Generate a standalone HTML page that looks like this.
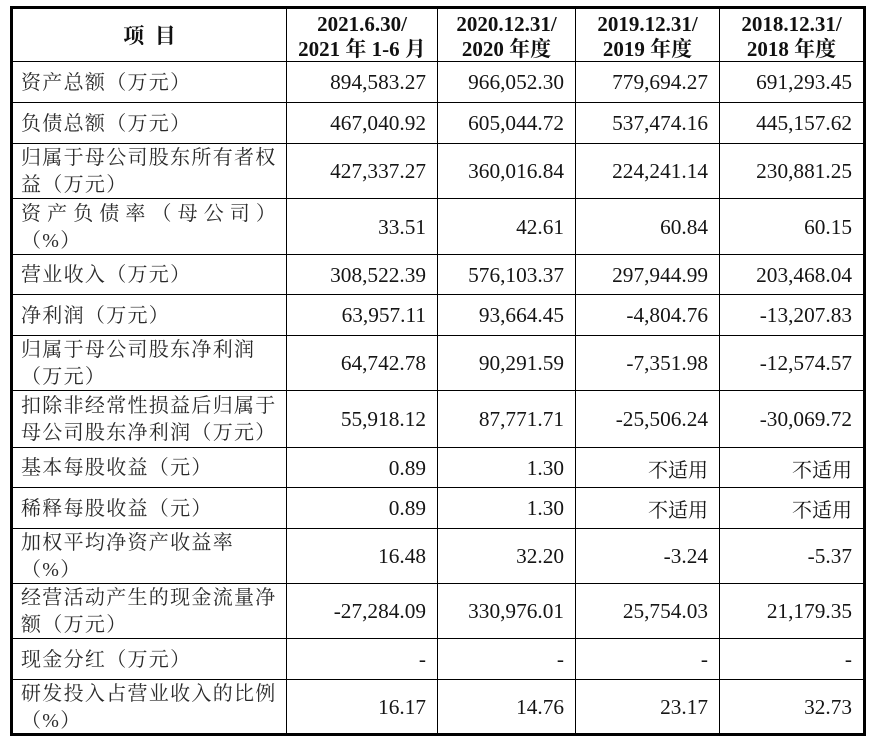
<!DOCTYPE html>
<html>
<head>
<meta charset="utf-8">
<style>
html,body{margin:0;padding:0;background:#fff;}
body{width:875px;height:742px;position:relative;overflow:hidden;}
.box{position:absolute;left:10px;top:6px;width:856px;height:730px;border:3px solid #000;box-sizing:border-box;}
.h{position:absolute;left:13px;width:850px;height:1px;background:#000;}
.v{position:absolute;top:9px;height:724px;width:1px;background:#000;}
.c{position:absolute;display:flex;align-items:center;box-sizing:border-box;}
.t{font-family:"Liberation Serif","Noto Serif CJK SC",serif;font-size:20px;color:#2a2a2a;letter-spacing:1.3px;line-height:27px;padding-left:21px;padding-top:3px;white-space:nowrap;}
.n{font-family:"Liberation Serif","Noto Serif CJK SC",serif;font-size:21.3px;color:#151515;justify-content:flex-end;padding-right:11px;padding-top:2px;white-space:nowrap;}
.hd{font-family:"Liberation Serif","Noto Serif CJK SC",serif;font-weight:bold;font-size:21px;color:#111;justify-content:center;text-align:center;line-height:25px;white-space:pre;padding-top:3px;}
</style>
</head>
<body>
<div class="box"></div>
<div class="h" style="top:61px"></div>
<div class="h" style="top:102px"></div>
<div class="h" style="top:143px"></div>
<div class="h" style="top:198px"></div>
<div class="h" style="top:254px"></div>
<div class="h" style="top:294px"></div>
<div class="h" style="top:335px"></div>
<div class="h" style="top:390px"></div>
<div class="h" style="top:447px"></div>
<div class="h" style="top:487px"></div>
<div class="h" style="top:528px"></div>
<div class="h" style="top:583px"></div>
<div class="h" style="top:638px"></div>
<div class="h" style="top:679px"></div>
<div class="v" style="left:286px"></div>
<div class="v" style="left:437px"></div>
<div class="v" style="left:575px"></div>
<div class="v" style="left:719px"></div>

<div class="c hd" style="left:13px;top:9px;width:273px;height:52px;">项  目</div>
<div class="c hd" style="left:287px;top:9px;width:150px;height:52px;">2021.6.30/
2021 年 1-6 月</div>
<div class="c hd" style="left:438px;top:9px;width:137px;height:52px;">2020.12.31/
2020 年度</div>
<div class="c hd" style="left:576px;top:9px;width:143px;height:52px;">2019.12.31/
2019 年度</div>
<div class="c hd" style="left:720px;top:9px;width:143px;height:52px;">2018.12.31/
2018 年度</div>

<div class="c t" style="left:0;top:61px;width:286px;height:41px;">资产总额（万元）</div>
<div class="c n" style="left:287px;top:61px;width:150px;height:41px;">894,583.27</div>
<div class="c n" style="left:438px;top:61px;width:137px;height:41px;">966,052.30</div>
<div class="c n" style="left:576px;top:61px;width:143px;height:41px;">779,694.27</div>
<div class="c n" style="left:720px;top:61px;width:143px;height:41px;">691,293.45</div>

<div class="c t" style="left:0;top:102px;width:286px;height:41px;">负债总额（万元）</div>
<div class="c n" style="left:287px;top:102px;width:150px;height:41px;">467,040.92</div>
<div class="c n" style="left:438px;top:102px;width:137px;height:41px;">605,044.72</div>
<div class="c n" style="left:576px;top:102px;width:143px;height:41px;">537,474.16</div>
<div class="c n" style="left:720px;top:102px;width:143px;height:41px;">445,157.62</div>

<div class="c t" style="left:0;top:143px;width:286px;height:55px;">归属于母公司股东所有者权<br>益（万元）</div>
<div class="c n" style="left:287px;top:143px;width:150px;height:55px;">427,337.27</div>
<div class="c n" style="left:438px;top:143px;width:137px;height:55px;">360,016.84</div>
<div class="c n" style="left:576px;top:143px;width:143px;height:55px;">224,241.14</div>
<div class="c n" style="left:720px;top:143px;width:143px;height:55px;">230,881.25</div>

<div class="c t" style="left:0;top:198px;width:286px;height:56px;"><div><span style="letter-spacing:6.1px">资产负债率（母公司）</span><br>（%）</div></div>
<div class="c n" style="left:287px;top:198px;width:150px;height:56px;">33.51</div>
<div class="c n" style="left:438px;top:198px;width:137px;height:56px;">42.61</div>
<div class="c n" style="left:576px;top:198px;width:143px;height:56px;">60.84</div>
<div class="c n" style="left:720px;top:198px;width:143px;height:56px;">60.15</div>

<div class="c t" style="left:0;top:254px;width:286px;height:40px;">营业收入（万元）</div>
<div class="c n" style="left:287px;top:254px;width:150px;height:40px;">308,522.39</div>
<div class="c n" style="left:438px;top:254px;width:137px;height:40px;">576,103.37</div>
<div class="c n" style="left:576px;top:254px;width:143px;height:40px;">297,944.99</div>
<div class="c n" style="left:720px;top:254px;width:143px;height:40px;">203,468.04</div>

<div class="c t" style="left:0;top:294px;width:286px;height:41px;">净利润（万元）</div>
<div class="c n" style="left:287px;top:294px;width:150px;height:41px;">63,957.11</div>
<div class="c n" style="left:438px;top:294px;width:137px;height:41px;">93,664.45</div>
<div class="c n" style="left:576px;top:294px;width:143px;height:41px;">-4,804.76</div>
<div class="c n" style="left:720px;top:294px;width:143px;height:41px;">-13,207.83</div>

<div class="c t" style="left:0;top:335px;width:286px;height:55px;">归属于母公司股东净利润<br>（万元）</div>
<div class="c n" style="left:287px;top:335px;width:150px;height:55px;">64,742.78</div>
<div class="c n" style="left:438px;top:335px;width:137px;height:55px;">90,291.59</div>
<div class="c n" style="left:576px;top:335px;width:143px;height:55px;">-7,351.98</div>
<div class="c n" style="left:720px;top:335px;width:143px;height:55px;">-12,574.57</div>

<div class="c t" style="left:0;top:390px;width:286px;height:57px;">扣除非经常性损益后归属于<br>母公司股东净利润（万元）</div>
<div class="c n" style="left:287px;top:390px;width:150px;height:57px;">55,918.12</div>
<div class="c n" style="left:438px;top:390px;width:137px;height:57px;">87,771.71</div>
<div class="c n" style="left:576px;top:390px;width:143px;height:57px;">-25,506.24</div>
<div class="c n" style="left:720px;top:390px;width:143px;height:57px;">-30,069.72</div>

<div class="c t" style="left:0;top:447px;width:286px;height:40px;">基本每股收益（元）</div>
<div class="c n" style="left:287px;top:447px;width:150px;height:40px;">0.89</div>
<div class="c n" style="left:438px;top:447px;width:137px;height:40px;">1.30</div>
<div class="c n" style="left:576px;top:447px;width:143px;height:40px;font-size:20px;">不适用</div>
<div class="c n" style="left:720px;top:447px;width:143px;height:40px;font-size:20px;">不适用</div>

<div class="c t" style="left:0;top:487px;width:286px;height:41px;">稀释每股收益（元）</div>
<div class="c n" style="left:287px;top:487px;width:150px;height:41px;">0.89</div>
<div class="c n" style="left:438px;top:487px;width:137px;height:41px;">1.30</div>
<div class="c n" style="left:576px;top:487px;width:143px;height:41px;font-size:20px;">不适用</div>
<div class="c n" style="left:720px;top:487px;width:143px;height:41px;font-size:20px;">不适用</div>

<div class="c t" style="left:0;top:528px;width:286px;height:55px;">加权平均净资产收益率<br>（%）</div>
<div class="c n" style="left:287px;top:528px;width:150px;height:55px;">16.48</div>
<div class="c n" style="left:438px;top:528px;width:137px;height:55px;">32.20</div>
<div class="c n" style="left:576px;top:528px;width:143px;height:55px;">-3.24</div>
<div class="c n" style="left:720px;top:528px;width:143px;height:55px;">-5.37</div>

<div class="c t" style="left:0;top:583px;width:286px;height:55px;">经营活动产生的现金流量净<br>额（万元）</div>
<div class="c n" style="left:287px;top:583px;width:150px;height:55px;">-27,284.09</div>
<div class="c n" style="left:438px;top:583px;width:137px;height:55px;">330,976.01</div>
<div class="c n" style="left:576px;top:583px;width:143px;height:55px;">25,754.03</div>
<div class="c n" style="left:720px;top:583px;width:143px;height:55px;">21,179.35</div>

<div class="c t" style="left:0;top:638px;width:286px;height:41px;">现金分红（万元）</div>
<div class="c n" style="left:287px;top:638px;width:150px;height:41px;">-</div>
<div class="c n" style="left:438px;top:638px;width:137px;height:41px;">-</div>
<div class="c n" style="left:576px;top:638px;width:143px;height:41px;">-</div>
<div class="c n" style="left:720px;top:638px;width:143px;height:41px;">-</div>

<div class="c t" style="left:0;top:679px;width:286px;height:54px;">研发投入占营业收入的比例<br>（%）</div>
<div class="c n" style="left:287px;top:679px;width:150px;height:54px;">16.17</div>
<div class="c n" style="left:438px;top:679px;width:137px;height:54px;">14.76</div>
<div class="c n" style="left:576px;top:679px;width:143px;height:54px;">23.17</div>
<div class="c n" style="left:720px;top:679px;width:143px;height:54px;">32.73</div>
</body>
</html>
